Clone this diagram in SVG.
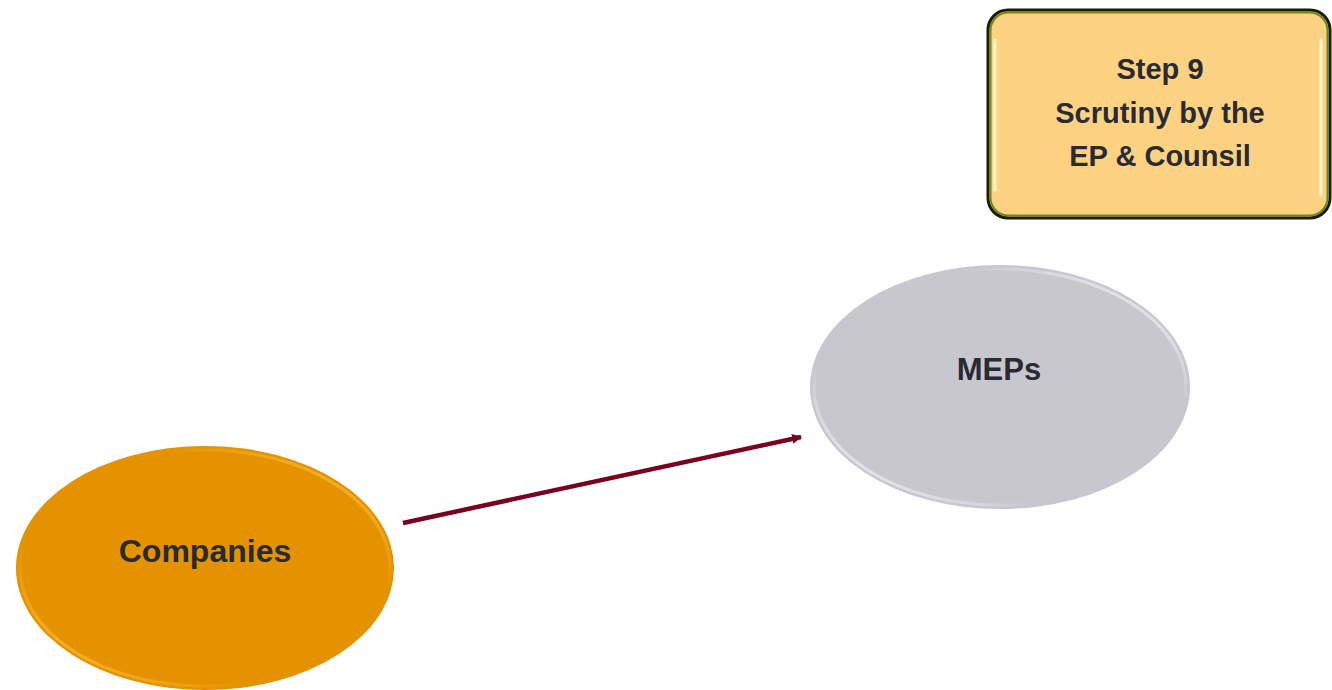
<svg xmlns="http://www.w3.org/2000/svg" width="1332" height="690" viewBox="0 0 1332 690">
<style>
.lbl{font-family:"Liberation Sans",Arial,sans-serif;font-weight:bold;fill:#2a2a32;text-anchor:middle}
</style>
<defs>
<marker id="ah" viewBox="0 0 10 10" refX="9" refY="5" markerWidth="2.2" markerHeight="2.2" orient="auto">
<path d="M0,0 L10,5 L0,10 z" fill="#7a0020"/>
</marker>
<linearGradient id="grayHi" x1="0" y1="1" x2="1" y2="0">
<stop offset="0" stop-color="#ffffff" stop-opacity="0.9"/>
<stop offset="0.3" stop-color="#ffffff" stop-opacity="0"/>
<stop offset="0.7" stop-color="#ffffff" stop-opacity="0"/>
<stop offset="1" stop-color="#ffffff" stop-opacity="0.9"/>
</linearGradient>
<linearGradient id="orHi" x1="0" y1="1" x2="1" y2="0">
<stop offset="0" stop-color="#ffc840" stop-opacity="1"/>
<stop offset="0.3" stop-color="#ffc840" stop-opacity="0"/>
<stop offset="0.7" stop-color="#ffc840" stop-opacity="0"/>
<stop offset="1" stop-color="#ffc840" stop-opacity="1"/>
</linearGradient>
</defs>
<rect width="1332" height="690" fill="#ffffff"/>
<g id="connectors">
<line x1="403" y1="523" x2="801" y2="437" stroke="#7a0020" stroke-width="4.5" marker-end="url(#ah)"/>
</g>
<g id="step9">
<rect x="988" y="10" width="342" height="208" rx="20" ry="20" fill="#fdd282" stroke="#1a1a10" stroke-width="3"/>
<rect x="990.5" y="12.5" width="337" height="203" rx="18" ry="18" fill="none" stroke="#6e8a10" stroke-width="2"/>
<line x1="995" y1="40" x2="995" y2="190" stroke="#fff6c8" stroke-width="3" stroke-linecap="round"/>
<line x1="1321" y1="40" x2="1321" y2="195" stroke="#fff6c8" stroke-width="3" stroke-linecap="round"/>
<text class="lbl" x="1160" y="79" font-size="29">Step 9</text>
<text class="lbl" x="1160" y="123" font-size="29">Scrutiny by the</text>
<text class="lbl" x="1160" y="166" font-size="29">EP &amp; Counsil</text>
</g>
<g id="meps">
<ellipse cx="1000" cy="387" rx="190" ry="122" fill="#c8c7cf"/>
<ellipse cx="1000" cy="387" rx="186" ry="118" fill="none" stroke="url(#grayHi)" stroke-width="3"/>
<text class="lbl" x="999" y="380" font-size="31">MEPs</text>
</g>
<g id="companies">
<ellipse cx="205" cy="568" rx="189" ry="122" fill="#e59200"/>
<ellipse cx="205" cy="568" rx="185" ry="118" fill="none" stroke="url(#orHi)" stroke-width="3"/>
<text class="lbl" x="205" y="562" font-size="32">Companies</text>
</g>
</svg>
